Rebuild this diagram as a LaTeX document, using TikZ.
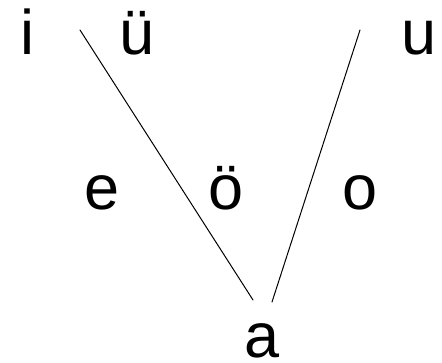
\documentclass[tikz,border=0pt]{standalone}
\usepackage{fontspec}
\setmainfont{Liberation Sans}
\begin{document}
\begin{tikzpicture}[x=1pt,y=-1pt,line cap=round,line join=round,
  vowel/.style={anchor=base,inner sep=0pt,font=\fontsize{63}{70}\selectfont}]
  \useasboundingbox (0,0) rectangle (442,363);
  \node[vowel] (i) at (27,55) {i};
  \node[vowel] (ue) at (137,55) {ü};
  \node[vowel] (u) at (419,55) {u};
  \node[vowel] (e) at (102,210) {e};
  \node[vowel] (oe) at (226,210) {ö};
  \node[vowel] (o) at (360,210) {o};
  \node[vowel] (a) at (262,358) {a};
  \coordinate (L1) at (80,30);
  \coordinate (L2) at (253,300);
  \coordinate (R1) at (360,30);
  \coordinate (R2) at (272,302);
  \draw[line width=1pt] (L1) -- (L2);
  \draw[line width=1pt] (R1) -- (R2);
\end{tikzpicture}
\end{document}
